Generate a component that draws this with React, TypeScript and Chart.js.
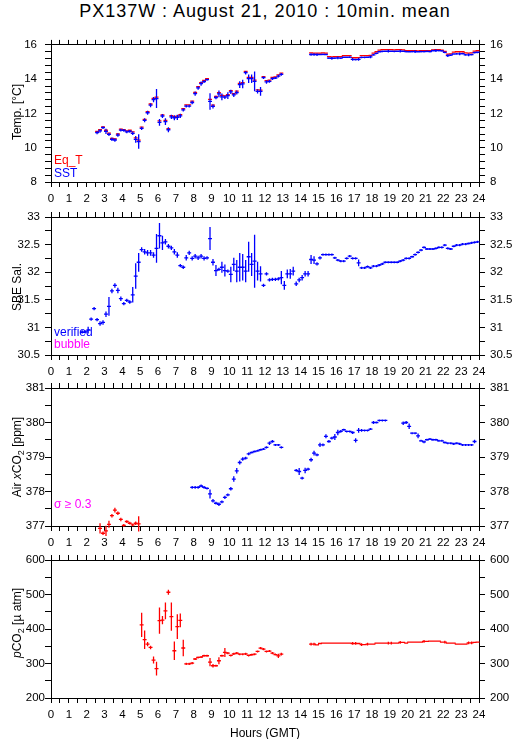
import React, { useEffect, useRef } from "react";
import { Chart, registerables } from "chart.js";

Chart.register(...registerables);
Chart.defaults.font.family = '"Liberation Sans", Arial, Helvetica, sans-serif';
Chart.defaults.font.size = 12;
Chart.defaults.color = "#000";

// Each value is a 10-minute mean; slot index i covers hours [i/6, (i+1)/6].
const SLOTS_PER_HOUR = 6;
const HOUR_TICKS = { min: 0, max: 24, step: 0.5 };

// ---------- Panel 1: temperature (°C) ----------
const sstStartA = 15;
const sstA = [10.88,10.98,11.17,10.95,10.78,10.49,10.45,10.74,11.03,11.01,10.92,10.96,10.84,10.49,10.36,11.13,11.6,12.04,12.48,12.81,12.87,11.48,11.85,11.52,11.05,11.8,11.75,11.77,11.86,12.21,12.43,12.43,12.64,13.16,13.49,13.74,13.86,13.97,12.7,12.41,12.93,13.14,12.97,12.95,13.04,13.26,13.08,13.22,13.68,13.72,14.38,14.03,14.03,13.87,13.29,13.29,14.09,13.84,13.87,14.03,14.07,14.18,14.28];
const sstErrA = [0.1,0.1,0.08,0.15,0.1,0.1,0.1,0.1,0.08,0.08,0.08,0.08,0.1,0.2,0.42,0.1,0.12,0.12,0.12,0.15,0.55,0.2,0.12,0.2,0.15,0.12,0.15,0.15,0.12,0.1,0.08,0.08,0.1,0.12,0.1,0.12,0.08,0.06,0.48,0.12,0.1,0.2,0.2,0.1,0.2,0.12,0.12,0.12,0.2,0.25,0.1,0.25,0.25,0.58,0.12,0.25,0.08,0.1,0.08,0.08,0.06,0.08,0.08];
const eqtA = [10.95,11.05,11.22,11.02,10.85,10.55,10.52,10.8,11.08,11.06,10.98,11.02,10.92,10.58,10.44,11.2,11.66,12.1,12.55,12.88,12.95,11.57,11.92,11.6,11.12,11.87,11.82,11.84,11.93,12.28,12.5,12.5,12.72,13.23,13.56,13.8,13.93,14.03,12.82,12.48,13.0,13.22,13.05,13.02,13.1,13.33,13.15,13.3,13.75,13.8,14.45,14.1,14.1,13.95,13.38,13.36,14.15,13.92,13.94,14.1,14.14,14.25,14.35];
const sstStartB = 87;
const sstB = [15.44,15.44,15.43,15.44,15.45,15.44, 15.23,15.22,15.23,15.24,15.23, 15.28,15.28,15.29, 15.15,15.14,15.16, 15.27,15.27,15.28,15.3, 15.42,15.5, 15.6,15.62,15.63,15.63,15.63,15.62,15.63,15.64,15.63, 15.61,15.6,15.61,15.61,15.6,15.61,15.61,15.62,15.61, 15.66,15.67,15.67,15.65, 15.56, 15.38,15.4, 15.47,15.48,15.48,15.49, 15.42,15.42,15.43, 15.55,15.57];
const sstErrB = [0.08,0.08,0.08,0.05,0.05,0.05, 0.05,0.08,0.05,0.08,0.05, 0.05,0.05,0.05, 0.08,0.05,0.08, 0.05,0.05,0.05,0.08, 0.05,0.05, 0.05,0.05,0.05,0.08,0.05,0.05,0.05,0.08,0.05, 0.05,0.05,0.05,0.08,0.05,0.05,0.05,0.05,0.05, 0.05,0.08,0.05,0.05, 0.05, 0.08,0.05, 0.05,0.05,0.08,0.05, 0.05,0.08,0.05, 0.05,0.05];
const eqtB = [15.53,15.52,15.52,15.52,15.53,15.52, 15.31,15.3,15.31,15.31,15.31, 15.37,15.37,15.37, 15.26,15.25,15.26, 15.38,15.38,15.38,15.39, 15.52,15.6, 15.7,15.72,15.72,15.72,15.72,15.71,15.72,15.72,15.71, 15.66,15.66,15.66,15.66,15.65,15.66,15.66,15.66,15.66, 15.71,15.72,15.72,15.7, 15.62, 15.46,15.48, 15.58,15.6,15.6,15.6, 15.53,15.52,15.53, 15.64,15.66];

// ---------- Panel 2: SBE salinity ----------
const salStart = 10;
const sal = [
  30.92,30.92,30.95,31.15,31.34,31.14,31.07,31.09,31.24,31.38,
  31.66,31.76,31.67,31.52,31.43,31.49,31.46,31.59,31.93,32.18,
  32.41,32.37,32.35,32.35,32.31,32.43,32.66,32.53,32.55,32.47,
  32.44,32.37,32.31,32.12,32.09,32.26,32.35,32.25,32.29,32.26,
  32.29,32.25,32.26,32.61,32.18,32.03,32.05,32.09,32.03,32.02,
  31.96,32.14,32.02,32.09,32.09,32.02,32.28,32.14,32.2,32.02,
  31.97,31.76,31.97,31.86,31.87,31.87,31.88,
  31.9,31.76,31.97,31.97,32.02,31.79,31.86,31.9,31.97,31.97,
  32.23,32.22,32.15,32.26,32.32,32.32,32.32,32.32,32.26,32.22,
  32.2,32.2,32.25,32.29,32.25,32.25,32.17,32.08,32.08,32.1,
  32.08,32.11,32.11,32.13,32.15,32.18,32.18,32.18,32.18,32.18,
  32.2,32.22,32.25,32.25,32.28,32.32,32.36,32.4,32.45,32.42,
  32.42,32.42,32.43,32.45,32.45,32.49,32.43,32.42,32.47,32.49,
  32.49,32.51,32.51,32.52,32.53,32.54,32.55];
const salErr = [
  0.03,0.03,0.06,0.03,0.03,0.03,0.04,0.04,0.05,0.17,
  0.04,0.04,0.05,0.04,0.03,0.03,0.03,0.14,0.23,0.17,
  0.04,0.05,0.05,0.05,0.05,0.26,0.23,0.13,0.05,0.04,
  0.04,0.05,0.05,0.03,0.03,0.05,0.04,0.04,0.04,0.04,
  0.04,0.04,0.03,0.21,0.06,0.1,0.03,0.1,0.11,0.03,
  0.14,0.12,0.2,0.26,0.24,0.2,0.27,0.21,0.48,0.17,
  0.14,0.03,0.03,0.03,0.03,0.03,0.03,
  0.12,0.08,0.08,0.09,0.08,0.04,0.04,0.05,0.05,0.05,
  0.08,0.07,0.03,0.03,0.02,0.02,0.02,0.02,0.02,0.02,
  0.02,0.02,0.02,0.02,0.02,0.02,0.06,0.02,0.02,0.02,
  0.02,0.02,0.02,0.02,0.02,0.02,0.02,0.02,0.02,0.02,
  0.02,0.02,0.02,0.02,0.02,0.02,0.02,0.02,0.02,0.02,
  0.02,0.02,0.02,0.02,0.02,0.02,0.02,0.02,0.02,0.02,
  0.02,0.02,0.02,0.02,0.02,0.02,0.02];

// ---------- Panel 3: air xCO2 (ppm) ----------
const airFlagStart = 16; // sigma >= 0.3
const airFlag = [376.93,376.79,376.86,377.05,377.3,377.46,377.37,377.19,377.02,377.13,377.08,377.03,377.08,377.06];
const airFlagErr = [0.15,0.05,0.15,0.1,0.05,0.07,0.05,0.05,0.04,0.04,0.04,0.04,0.05,0.22];
const airStartA = 47;
const airA = [378.12,378.12,378.12,378.16,378.12,378.09,377.93,377.73,377.66,377.63,377.7,377.83,377.9,378.08,378.36,378.6,378.84,378.94,378.97,379.09,379.13,379.16,379.18,379.21,379.23,379.28,379.4,379.45,379.35,379.35,379.28];
const airErrA = [0.04,0.04,0.04,0.04,0.04,0.03,0.13,0.05,0.04,0.05,0.04,0.05,0.04,0.05,0.08,0.08,0.06,0.05,0.04,0.04,0.03,0.03,0.03,0.03,0.03,0.03,0.05,0.04,0.03,0.03,0.03];
const airStartB = 82;
const airB = [378.61,378.58,378.39,378.61,378.65,378.92,379.11,379.06,379.35,379.35,379.6,379.45,379.55,379.58,379.71,379.74,379.79,379.74,379.74,379.71,379.48,379.77,379.77,379.77,379.77,379.81,380.0,380.0,380.06,380.06,380.06];
const airErrB = [0.04,0.1,0.04,0.08,0.04,0.06,0.07,0.04,0.06,0.04,0.06,0.04,0.04,0.09,0.08,0.04,0.03,0.03,0.03,0.04,0.06,0.07,0.04,0.03,0.03,0.03,0.04,0.03,0.03,0.03,0.03];
const airStartC = 118;
const airC = [379.98,380.0,379.89,379.69,379.69,379.61,379.47,379.44,379.5,379.52,379.5,379.5,379.47,379.47,379.42,379.4,379.4,379.38,379.4,379.38,379.35,379.35,379.35,379.35,379.45];
const airErrC = [0.05,0.04,0.08,0.03,0.03,0.07,0.03,0.04,0.03,0.03,0.03,0.03,0.03,0.03,0.03,0.03,0.03,0.03,0.03,0.03,0.03,0.03,0.03,0.03,0.05];

// ---------- Panel 4: pCO2 (µatm) ----------
const pco2StartA = 30;
const pco2A = [412,369,356,346.5,310,285,424,426,452.5,506.5,436,337,407,425,345,299,299,301,313,317.6,318.6,322.4,322.4,304,293.5,293.5,308,322.4,332,330,323.4,328,330,327,327,328,323.4,325.3,327,335,344.6,341.7,335,336,330,326,322,327];
const pco2ErrA = [35,27,6,5,10,20,38,12,24,7,41,27,36,20,24,3,3,3,3,3,3,3,3,12,5,3,10,3,13,3,3,3,3,3,3,3,3,3,3,3,3,3,3,3,3,3,6,4];
const pco2StartB = 87;
const pco2B = [356,356, 354, 358,359,359,359,359,359,359,359,359,359,359, 358,358,358, 355,355, 356,356,356, 359,359,359,359,359,359,359,359, 361,361, 359, 362,362,362,362,362, 364,364, 365,365,365,365, 362,362, 359,359,359, 356,356,356,356, 360,360,361,362];
const pco2ErrB = [4,4, 0, 0,0,0,0,0,0,0,0,0,0,0, 4,4,0, 4,0, 4,0,0, 0,0,0,0,4,4,0,0, 4,0, 0, 0,0,0,0,0, 4,0, 0,0,0,0, 0,4, 0,0,0, 0,0,0,0, 4,4,0,0];

// ---------- axis tick definitions ----------
const tempTicks = { min: 8, max: 16, step: 0.4, labelEvery: 2 };
const salTicks = { min: 30.5, max: 33, step: 0.25, labelEvery: 0.5 };
const airTicks = { min: 377, max: 381, step: 0.5, labelEvery: 1 };
const pco2Ticks = { min: 200, max: 600, step: 50, labelEvery: 100 };

const BLUE = "#0000ff";
const RED = "#ff0000";
const MAGENTA = "#ff00ff";

type Block = { start: number; values: number[]; errs?: number[] };
const HALF_BAR = 0.11;

function crossPoints(blocks: Block[]) {
  const pts: { x: number; y: number | null }[] = [];
  for (const b of blocks) {
    b.values.forEach((v, i) => {
      const t = (b.start + i + 0.5) / SLOTS_PER_HOUR;
      pts.push({ x: t - HALF_BAR, y: v }, { x: t + HALF_BAR, y: v }, { x: t + HALF_BAR, y: null });
      const e = b.errs ? b.errs[i] : 0;
      if (e > 0) pts.push({ x: t, y: v - e }, { x: t, y: v + e }, { x: t, y: null });
    });
  }
  return pts;
}

function ds(blocks: Block[], color: string) {
  return {
    data: crossPoints(blocks),
    borderColor: color,
    backgroundColor: color,
    borderWidth: 1.3,
    showLine: true,
    pointRadius: 0,
    spanGaps: false,
    clip: false as any,
  };
}

const isMult = (v: number, m: number) => Math.abs(v / m - Math.round(v / m)) < 1e-6;

function fmt(v: number) {
  return String(Math.round(v * 100) / 100);
}

type YT = { min: number; max: number; step: number; labelEvery: number };
const TICK_FONT = { size: 11.5 };

function makeConfig(datasets: any[], yt: YT, leftPad: number): any {
  const border = { display: true, color: "#000", width: 1 };
  const xAxis = (pos: string, labels: boolean, h: number) => ({
    type: "linear",
    position: pos,
    min: HOUR_TICKS.min,
    max: HOUR_TICKS.max,
    border,
    grid: { display: true, drawOnChartArea: false, drawTicks: true, tickLength: 5, color: "#000" },
    ticks: {
      stepSize: HOUR_TICKS.step,
      autoSkip: false,
      maxTicksLimit: 1000,
      maxRotation: 0,
      minRotation: 0,
      padding: 5,
      color: "#000",
      font: TICK_FONT,
      callback: (v: number) => (labels && isMult(v, 1) ? fmt(v) : ""),
    },
    afterFit: (s: any) => {
      s.height = h;
    },
  });
  const yAxis = (pos: string, w: number, pad: number) => ({
    type: "linear",
    position: pos,
    min: yt.min,
    max: yt.max,
    border,
    grid: { display: true, drawOnChartArea: false, drawTicks: true, tickLength: 6, color: "#000" },
    ticks: {
      stepSize: yt.step,
      autoSkip: false,
      maxTicksLimit: 1000,
      padding: pad,
      color: "#000",
      font: TICK_FONT,
      callback: (v: number) => (isMult(v, yt.labelEvery) ? fmt(v) : ""),
    },
    afterFit: (s: any) => {
      s.width = w;
    },
  });
  return {
    type: "scatter",
    data: { datasets },
    options: {
      animation: false,
      responsive: false,
      maintainAspectRatio: false,
      events: [],
      layout: { padding: 0 },
      plugins: { legend: { display: false }, tooltip: { enabled: false }, title: { display: false } },
      elements: { point: { radius: 0 }, line: { borderWidth: 1, tension: 0 } },
      scales: {
        x: xAxis("bottom", true, 26),
        x2: xAxis("top", false, 14),
        y: yAxis("left", 51, leftPad),
        y2: yAxis("right", 36, 5),
      },
    },
  };
}

const CANVAS_H = 178;

function Panel({ top, datasets, yt, leftPad }: { top: number; datasets: any[]; yt: YT; leftPad: number }) {
  const ref = useRef<HTMLCanvasElement>(null);
  useEffect(() => {
    const chart = new Chart(ref.current as HTMLCanvasElement, makeConfig(datasets, yt, leftPad));
    return () => chart.destroy();
  }, []);
  return (
    <canvas
      ref={ref}
      width={515}
      height={CANVAS_H}
      style={{ position: "absolute", left: 0, top, width: 515, height: CANVAS_H }}
    />
  );
}

const txt = (left: number, top: number, color: string, extra: any = {}): any => ({
  position: "absolute",
  left,
  top,
  color,
  fontSize: 12,
  lineHeight: "12px",
  whiteSpace: "nowrap",
  ...extra,
});

const yTitle = (cy: number): any => ({
  position: "absolute",
  left: 17,
  top: cy,
  fontSize: 12,
  lineHeight: "12px",
  whiteSpace: "nowrap",
  transform: "translate(-50%, -50%) rotate(-90deg)",
});

const sub: any = { fontSize: 9, position: "relative", top: 3 };

export default function App() {
  const p1 = [
    ds([{ start: sstStartA, values: sstA, errs: sstErrA }, { start: sstStartB, values: sstB, errs: sstErrB }], BLUE),
    ds([{ start: sstStartA, values: eqtA }, { start: sstStartB, values: eqtB }], RED),
  ];
  const p2 = [ds([{ start: salStart, values: sal, errs: salErr }], BLUE)];
  const p3 = [
    ds(
      [
        { start: airStartA, values: airA, errs: airErrA },
        { start: airStartB, values: airB, errs: airErrB },
        { start: airStartC, values: airC, errs: airErrC },
      ],
      BLUE
    ),
    ds([{ start: airFlagStart, values: airFlag, errs: airFlagErr }], RED),
  ];
  const p4 = [
    ds(
      [
        { start: pco2StartA, values: pco2A, errs: pco2ErrA },
        { start: pco2StartB, values: pco2B, errs: pco2ErrB },
      ],
      RED
    ),
  ];

  return (
    <div
      style={{
        position: "absolute",
        left: 0,
        top: 0,
        width: 515,
        height: 739,
        background: "#fff",
        overflow: "hidden",
        fontFamily: '"Liberation Sans", Arial, Helvetica, sans-serif',
        color: "#000",
      }}
    >
      <div
        style={{
          position: "absolute",
          left: 51,
          width: 428,
          top: 2,
          textAlign: "center",
          fontSize: 18,
          lineHeight: "18px",
          letterSpacing: 0.95,
          whiteSpace: "nowrap",
        }}
      >
        PX137W : August 21, 2010 : 10min. mean
      </div>

      <Panel top={30} datasets={p1} yt={tempTicks} leftPad={8} />
      <Panel top={203} datasets={p2} yt={salTicks} leftPad={5} />
      <Panel top={374} datasets={p3} yt={airTicks} leftPad={0} />
      <Panel top={546} datasets={p4} yt={pco2Ticks} leftPad={0} />

      <div style={yTitle(112)}>Temp. [°C]</div>
      <div style={yTitle(287)}>SBE Sal.</div>
      <div style={yTitle(457)}>
        Air <i>x</i>CO<span style={sub}>2</span> [ppm]
      </div>
      <div style={yTitle(623)}>
        <i>p</i>CO<span style={sub}>2</span> [µ atm]
      </div>

      <div style={txt(54, 153.5, RED)}>Eq_T</div>
      <div style={txt(54, 166.7, BLUE)}>SST</div>
      <div style={txt(54, 326, BLUE)}>verified</div>
      <div style={txt(54, 338.3, MAGENTA)}>bubble</div>
      <div style={txt(54, 497.7, MAGENTA)}>σ ≥ 0.3</div>

      <div style={{ position: "absolute", left: 51, width: 428, top: 727, textAlign: "center", fontSize: 12, lineHeight: "12px" }}>
        Hours (GMT)
      </div>
    </div>
  );
}
